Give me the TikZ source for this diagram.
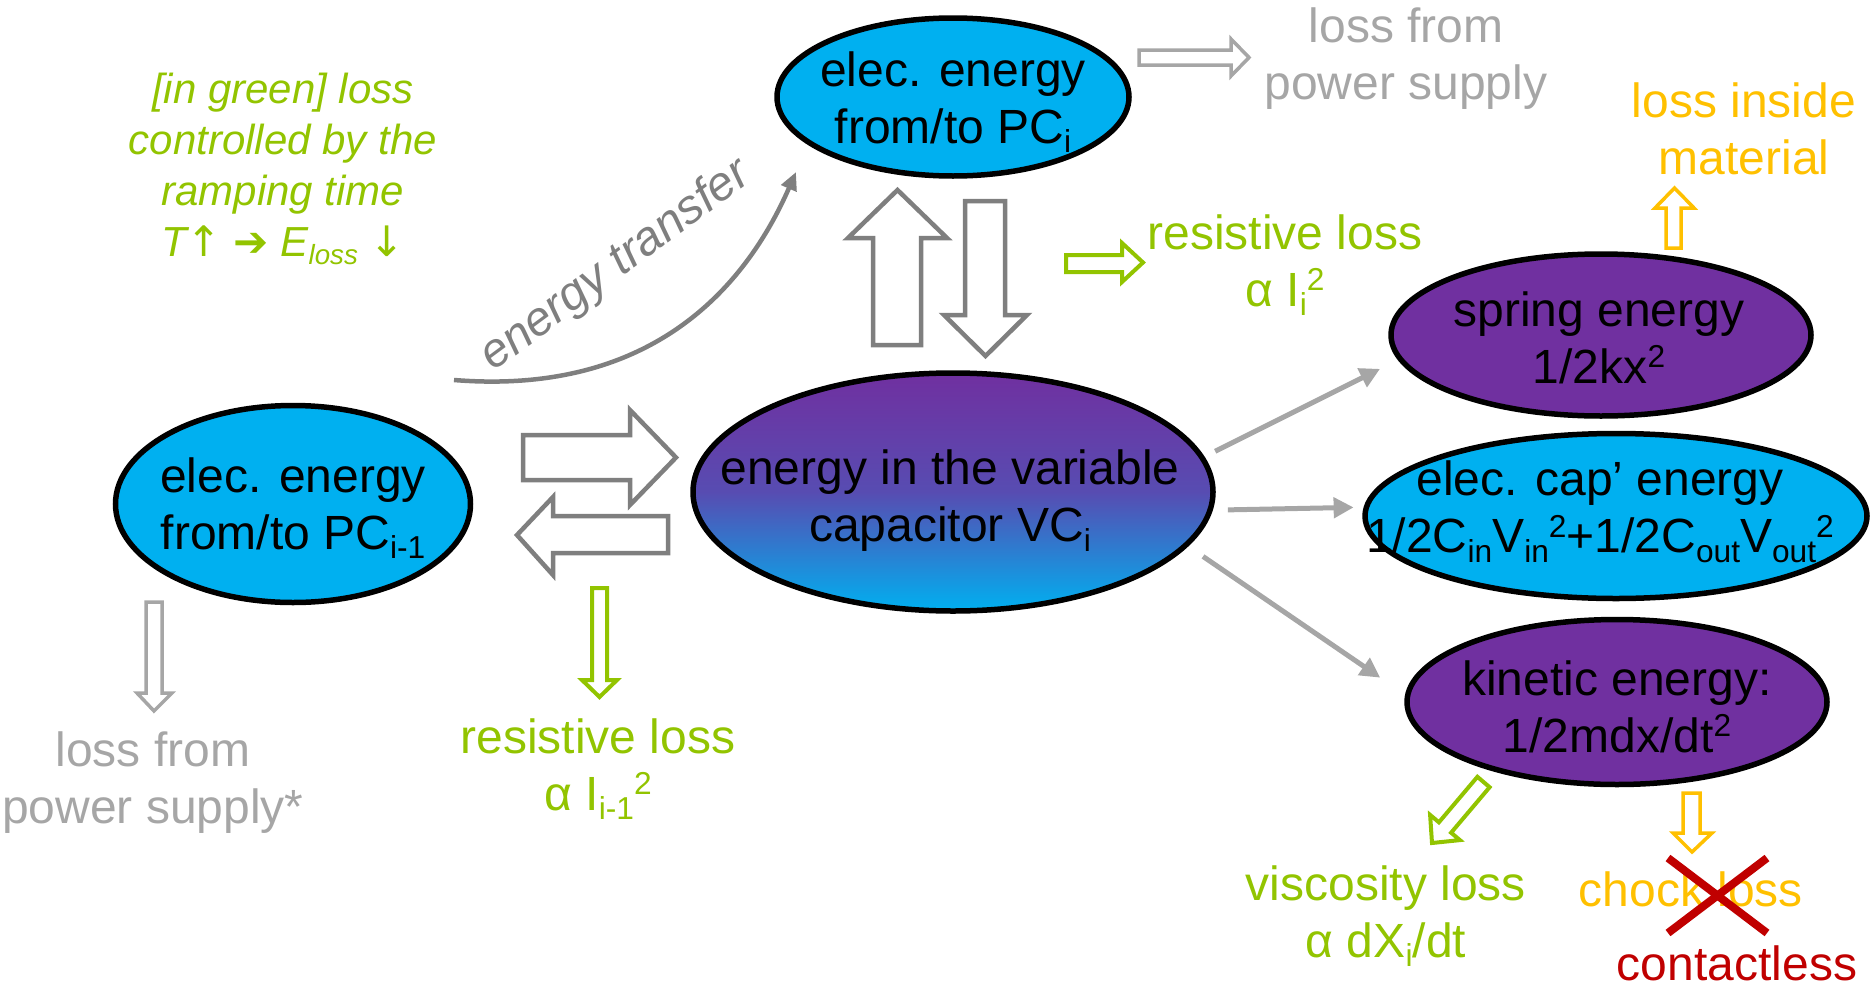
\documentclass[tikz,border=0pt]{standalone}
\usepackage{graphicx}
\usepackage{fontspec}
\setmainfont{Liberation Sans}
\newfontfamily\symf{DejaVu Sans}
\usetikzlibrary{arrows.meta,shapes.geometric,calc}
\definecolor{pcblue}{HTML}{00B0F0}
\definecolor{vcpurple}{HTML}{7030A0}
\definecolor{lossgreen}{HTML}{92C400}
\definecolor{lossorange}{HTML}{FFC000}
\definecolor{lossred}{HTML}{C00000}
\definecolor{dgray}{HTML}{7F7F7F}
\definecolor{lgray}{HTML}{A6A6A6}
\newcommand\lo[1]{\raisebox{-0.2em}{\scalebox{0.66}{#1}}}
\newcommand\hi[1]{\raisebox{0.33em}{\scalebox{0.66}{#1}}}
\begin{document}
\begin{tikzpicture}[x=1pt,y=-1pt,
  ell/.style={ellipse, draw=black, line width=5.5pt, inner sep=0pt},
  txt/.style={align=center, inner sep=0pt, font=\fontsize{48}{57}\selectfont},
  flow/.style={draw=lgray, line width=5pt, -{Triangle[length=20pt,width=20pt]}},
  blkd/.style={draw=dgray, fill=white, line width=4.5pt, line join=miter},
  blkl/.style={draw=lgray, fill=white, line width=3.5pt, line join=miter},
  blkg/.style={draw=lossgreen, fill=white, line width=4pt, line join=miter},
  blko/.style={draw=lossorange, fill=white, line width=3.5pt, line join=miter},
  redx/.style={draw=lossred, line width=8pt},
]
\useasboundingbox (0,0) rectangle (1872,988);

% ellipses
\node[ell, fill=pcblue, minimum width=352pt, minimum height=158pt] (pctop) at (953,97) {};
\node[ell, fill=pcblue, minimum width=355pt, minimum height=197pt] (pcprev) at (293,504) {};
\node[ell, top color=vcpurple, bottom color=pcblue, middle color=vcpurple!78!pcblue,
      minimum width=520pt, minimum height=238pt] (vc) at (953,492) {};
\node[ell, fill=vcpurple, minimum width=420pt, minimum height=162pt] (spring) at (1601,335) {};
\node[ell, fill=pcblue, minimum width=502pt, minimum height=165pt] (cap) at (1616,516) {};
\node[ell, fill=vcpurple, minimum width=420pt, minimum height=165pt] (kin) at (1617,702) {};

% ellipse texts
\node[txt] (pctopt) at (953,102) {elec. energy\\from/to PC\lo{i}};
\node[txt] (pcprevt) at (293,508) {elec. energy\\from/to PC\lo{i-1}};
\node[txt] (vct) at (950,501) {energy in the variable\\capacitor VC\lo{i}};
\node[txt] (springt) at (1599,338) {spring energy\\1/2kx\hi{2}};
\node[txt] (capt) at (1600,512) {elec. cap’ energy\\1/2C\lo{in}V\lo{in}\hi{2}+1/2C\lo{out}V\lo{out}\hi{2}};
\node[txt] (kint) at (1617,707) {kinetic energy:\\1/2mdx/dt\hi{2}};

% loss labels
\node[txt, text=lgray] (lossps) at (1406,59) {loss from\\power supply};
\node[txt, text=lossorange] (lossmat) at (1744,129) {loss inside\\material};
\node[txt, text=lossgreen] (resi) at (1285,265) {resistive loss\\α I\lo{i}\hi{2}};
\node[txt, text=lossgreen] (resim) at (598,769) {resistive loss\\α I\lo{i-1}\hi{2}};
\node[txt, text=lgray] (losspsb) at (153,783) {loss from\\power supply*};
\node[txt, text=lossgreen] (visc) at (1386,916) {viscosity loss\\α dX\lo{i}/dt};
\node[txt, text=lossorange] (chock) at (1691,889) {chock loss};
\node[txt, text=lossred] (contact) at (1737,963) {contactless};

% note
\node[align=center, inner sep=0pt, text=lossgreen, font=\fontsize{42}{51}\selectfont\itshape] (note) at (283,169)
  {[in green] loss\\controlled by the\\ramping time\\T{\symf\upshape ↑} {\symf\upshape ➔} E\lo{loss} {\symf\upshape ↓}};

% energy transfer
\coordinate (etstart) at (454,380);
\coordinate (etend) at (796,172);
\draw[draw=dgray, line width=4.5pt, -{Triangle[length=18pt,width=16pt]}]
  (etstart) .. controls (640,395) and (740,300) .. (etend);
\node[rotate=36.5, inner sep=0pt, text=dgray, font=\fontsize{48}{57}\selectfont\itshape] (etlabel) at (616,266) {energy transfer};

% flow arrows
\draw[flow, shorten <=12pt, shorten >=20pt] (vc.8) -- (spring.187);
\draw[flow, shorten <=15pt, shorten >=10pt] (vc.-4) -- (cap.178);
\draw[flow, shorten <=18pt, shorten >=30pt] (vc.-13) -- (kin.178);

% block arrows between nodes
\draw[blkd] (523,435) -- (630,435) -- (630,410) -- (676,457.5) -- (630,505) -- (630,480) -- (523,480) -- cycle;
\draw[blkd] (668,516) -- (553,516) -- (553,497) -- (517,535) -- (553,575) -- (553,553) -- (668,553) -- cycle;
\draw[blkd] (873,345) -- (873,238) -- (848,238) -- (897.5,190) -- (947,238) -- (921,238) -- (921,345) -- cycle;
\draw[blkd] (965,201) -- (1005,201) -- (1005,315) -- (1027,315) -- (985.5,356) -- (944,315) -- (965,315) -- cycle;

% loss block arrows
\draw[blkl] (1139,50) -- (1231,50) -- (1231,39) -- (1249,57.5) -- (1231,76) -- (1231,65) -- (1139,65) -- cycle;
\draw[blkl] (146,602) -- (162,602) -- (162,693) -- (172,693) -- (154,711) -- (137,693) -- (146,693) -- cycle;
\draw[blkg] (592,588) -- (607,588) -- (607,680) -- (617,680) -- (599.5,697) -- (582,680) -- (592,680) -- cycle;
\draw[blkg] (1066,255) -- (1122,255) -- (1122,243) -- (1143,262.5) -- (1122,282) -- (1122,272) -- (1066,272) -- cycle;
\draw[blko] (1666,248) -- (1666,208) -- (1655,208) -- (1674.5,188) -- (1694,208) -- (1681,208) -- (1681,248) -- cycle;
\draw[blko] (1683,793) -- (1700,793) -- (1700,833) -- (1712,833) -- (1692,852) -- (1673,833) -- (1683,833) -- cycle;
\draw[blkg] (1489.6,787.2) -- (1451.1,832.7) -- (1459.9,840.1) -- (1432,843) -- (1430.1,814.9) -- (1438.9,822.3) -- (1477.4,776.8) -- cycle;

% red cross
\draw[redx] (1668,858) -- (1767,933);
\draw[redx] (1767,858) -- (1668,933);
\end{tikzpicture}
\end{document}
